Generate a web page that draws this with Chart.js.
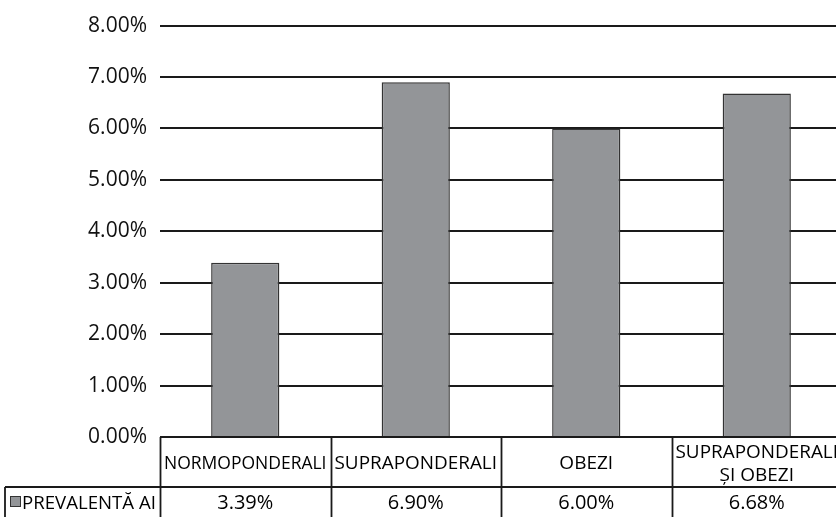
<!DOCTYPE html>
<html lang="ro">
<head>
<meta charset="UTF-8">
<title>Prevalență AI</title>
<script src="https://cdn.jsdelivr.net/npm/chart.js"></script>
<style>
    html, body { margin: 0; padding: 0; background: #fff; overflow: hidden; }
    /* the original chart is cut off at the right edge */
    #wrap { width: 836px; height: 517px; overflow: hidden; }
</style>
</head>
<body>
<div id="wrap"><canvas id="c" width="842" height="517"></canvas></div>
<script>
// data
const categories = [["NORMOPONDERALI"], ["SUPRAPONDERALI"], ["OBEZI"], ["SUPRAPONDERALI", "ȘI OBEZI"]];
const prevalence = [3.39, 6.90, 6.00, 6.68];
const valueLabels = ["3.39%", "6.90%", "6.00%", "6.68%"];
const seriesName = "PREVALENTĂ AI";
const yTicks = [0, 1, 2, 3, 4, 5, 6, 7, 8];

const lineColor = "#1a1a1a";
const barColor = "#939598";
const font = "'Open Sans', sans-serif";

// data table under the plot, Excel style
const tablePlugin = {
    id: 'dataTable',
    afterDraw(chart) {
        const ctx = chart.ctx;
        const area = chart.chartArea;
        const x = chart.scales.x;
        const top = area.bottom;
        const mid = top + 50;
        const bot = 517;
        const half = (x.getPixelForValue(1) - x.getPixelForValue(0)) / 2;

        ctx.save();
        ctx.strokeStyle = lineColor;
        ctx.lineWidth = 1.8;
        ctx.beginPath();
        ctx.moveTo(area.left, top); ctx.lineTo(chart.width, top);
        ctx.moveTo(5, mid); ctx.lineTo(chart.width, mid);
        ctx.moveTo(5, mid); ctx.lineTo(5, bot);
        for (let i = 0; i < categories.length; i++) {
            const bx = Math.round(x.getPixelForValue(i) - half) + 0.5;
            ctx.moveTo(bx, top); ctx.lineTo(bx, bot);
        }
        ctx.stroke();

        ctx.fillStyle = "#000";
        ctx.textAlign = "center";
        ctx.textBaseline = "middle";
        categories.forEach((lines, i) => {
            const cx = x.getPixelForValue(i);
            ctx.font = "19px " + font;
            const lh = 23;
            const y0 = top + 27 - (lines.length - 1) * lh / 2;
            lines.forEach((t, j) => ctx.fillText(t, cx, y0 + j * lh, half * 2 - 8));
            ctx.font = "20px " + font;
            ctx.fillText(valueLabels[i], cx, mid + 16);
        });

        // legend key
        ctx.fillStyle = barColor;
        ctx.strokeStyle = "#333";
        ctx.lineWidth = 1;
        ctx.fillRect(10.5, 496.5, 10, 10);
        ctx.strokeRect(10.5, 496.5, 10, 10);
        ctx.fillStyle = "#000";
        ctx.textAlign = "left";
        ctx.font = "19px " + font;
        ctx.fillText(seriesName, 22, mid + 17, area.left - 26);
        ctx.restore();
    }
};

new Chart(document.getElementById("c"), {
    type: 'bar',
    data: {
        labels: categories.map(c => c.join(" ")),
        datasets: [{
            label: seriesName,
            data: prevalence,
            backgroundColor: barColor,
            borderColor: "#333",
            borderWidth: 1.5,
            barPercentage: 0.4,
            categoryPercentage: 1
        }]
    },
    options: {
        responsive: false,
        animation: false,
        layout: { padding: { top: 22, bottom: 80, left: 0, right: 0 } },
        plugins: { legend: { display: false }, tooltip: { enabled: false } },
        scales: {
            x: { display: false },
            y: {
                min: 0, max: 8,
                afterBuildTicks: s => { s.ticks = yTicks.map(v => ({ value: v })); },
                afterFit: s => { s.width = 160; },
                border: { display: false },
                grid: { color: lineColor, lineWidth: 2, drawTicks: false },
                ticks: {
                    padding: 13,
                    color: "#111",
                    font: { family: "'Open Sans', sans-serif", size: 21 },
                    callback: v => v.toFixed(2) + "%"
                }
            }
        }
    },
    plugins: [tablePlugin]
});
</script>
</body>
</html>
